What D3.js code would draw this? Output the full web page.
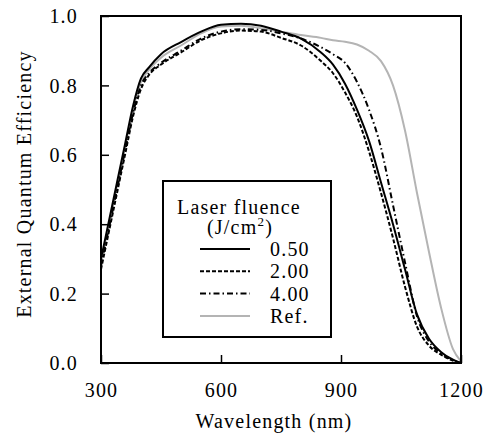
<!DOCTYPE html>
<html>
<head>
<meta charset="utf-8">
<script src="https://d3js.org/d3.v7.min.js"></script>
<style>
  body { margin: 0; background: #fff; }
  svg text { font-family: "Liberation Serif", "Tinos", "DejaVu Serif", serif; fill: #000; }
</style>
</head>
<body>
<script>
// wavelengths (nm) shared by all curves
var wavelength = [300, 320, 340, 360, 380, 400, 420, 450, 500, 550, 600, 650, 700, 750, 800,
                  850, 880, 910, 940, 970, 1000, 1030, 1060, 1090, 1120, 1150, 1180, 1200];

// EQE for each laser fluence
var eqe050 = [0.30, 0.41, 0.52, 0.63, 0.74, 0.82, 0.852, 0.89, 0.925, 0.955, 0.975, 0.978, 0.972, 0.955, 0.935,
              0.895, 0.86, 0.805, 0.73, 0.64, 0.52, 0.40, 0.27, 0.14, 0.07, 0.032, 0.01, 0.0];
var eqe200 = [0.27, 0.38, 0.49, 0.60, 0.71, 0.79, 0.83, 0.86, 0.895, 0.93, 0.95, 0.958, 0.955, 0.937, 0.915,
              0.87, 0.835, 0.78, 0.71, 0.61, 0.49, 0.36, 0.22, 0.105, 0.05, 0.024, 0.007, 0.0];
var eqe400 = [0.28, 0.39, 0.50, 0.61, 0.72, 0.80, 0.835, 0.865, 0.90, 0.935, 0.955, 0.962, 0.96, 0.95, 0.935,
              0.91, 0.89, 0.865, 0.81, 0.73, 0.62, 0.455, 0.29, 0.135, 0.062, 0.028, 0.008, 0.0];
var eqeRef = [0.29, 0.40, 0.51, 0.62, 0.73, 0.81, 0.845, 0.88, 0.915, 0.95, 0.97, 0.972, 0.965, 0.955, 0.945,
              0.937, 0.93, 0.926, 0.918, 0.90, 0.87, 0.80, 0.67, 0.49, 0.32, 0.16, 0.04, 0.005];

var legendLabels = ["0.50", "2.00", "4.00", "Ref."];
var xTicks = [300, 600, 900, 1200];
var yTicks = [0, 0.2, 0.4, 0.6, 0.8, 1.0];

var width = 487, height = 434;
var margin = {top: 16, right: 26, bottom: 71, left: 101};
var w = width - margin.left - margin.right;
var h = height - margin.top - margin.bottom;
var serif = "'Liberation Serif', 'Tinos', 'DejaVu Serif', serif";

var series = [
  {name: legendLabels[0], values: eqe050, color: "#000", dash: null, sw: 2},
  {name: legendLabels[1], values: eqe200, color: "#000", dash: "4,2", sw: 2},
  {name: legendLabels[2], values: eqe400, color: "#000", dash: "6,3,1.5,3", sw: 2},
  {name: legendLabels[3], values: eqeRef, color: "#b4b4b4", dash: null, sw: 2}
];

var svg = d3.select("body").append("svg")
    .attr("width", width)
    .attr("height", height)
    .attr("font-family", serif);

var g = svg.append("g")
    .attr("transform", "translate(" + margin.left + "," + margin.top + ")");

var x = d3.scaleLinear().domain([300, 1200]).range([0, w]);
var y = d3.scaleLinear().domain([0, 1]).range([h, 0]);

// axes, ticks pointing inward
var xAxis = g.append("g")
    .attr("transform", "translate(0," + h + ")")
    .call(d3.axisBottom(x).tickValues(xTicks).tickSize(-8).tickPadding(20).tickFormat(d3.format("d")));
var yAxis = g.append("g")
    .call(d3.axisLeft(y).tickValues(yTicks).tickSize(-8).tickPadding(23).tickFormat(d3.format(".1f")));

[xAxis, yAxis].forEach(function(a) {
  a.attr("font-family", serif).attr("font-size", 20);
  a.select(".domain").remove();
  a.selectAll(".tick line").attr("stroke", "#000").attr("stroke-width", 1.5);
  a.selectAll(".tick text").style("letter-spacing", "1.2px");
});
yAxis.selectAll(".tick text").attr("dy", "0.33em");

g.append("clipPath").attr("id", "clip")
  .append("rect").attr("width", w).attr("height", h);

var line = d3.line()
    .x(function(d, i) { return x(wavelength[i]); })
    .y(function(d) { return y(d); })
    .curve(d3.curveMonotoneX);

// draw ref first so black curves sit on top
g.append("g").attr("clip-path", "url(#clip)")
  .selectAll("path")
  .data(series.slice().reverse())
  .enter()
  .append("path")
  .attr("d", function(d) { return line(d.values); })
  .attr("fill", "none")
  .attr("stroke", function(d) { return d.color; })
  .attr("stroke-width", function(d) { return d.sw; })
  .attr("stroke-dasharray", function(d) { return d.dash; });

// plot frame
g.append("rect")
  .attr("width", w).attr("height", h)
  .attr("fill", "none").attr("stroke", "#000").attr("stroke-width", 2);

// axis titles
svg.append("text")
  .attr("x", 274).attr("y", 428)
  .attr("text-anchor", "middle")
  .style("font-size", "20px").style("letter-spacing", "1.2px")
  .text("Wavelength (nm)");

svg.append("text")
  .attr("transform", "translate(31,184) rotate(-90)")
  .attr("text-anchor", "middle")
  .style("font-size", "20px").style("letter-spacing", "1.2px")
  .text("External Quantum Efficiency");

// legend
var leg = svg.append("g");
leg.append("rect")
  .attr("x", 163).attr("y", 181).attr("width", 168).attr("height", 156)
  .attr("fill", "#fff").attr("stroke", "#000").attr("stroke-width", 2);

leg.append("text")
  .attr("x", 239).attr("y", 214)
  .attr("text-anchor", "middle")
  .style("font-size", "20px").style("letter-spacing", "1.2px")
  .text("Laser fluence");

var unit = leg.append("text")
  .attr("x", 240).attr("y", 234)
  .attr("text-anchor", "middle")
  .style("font-size", "20px").style("letter-spacing", "1.2px");
unit.append("tspan").text("(J/cm");
unit.append("tspan").attr("dy", -8).style("font-size", "13px").text("2");
unit.append("tspan").attr("dy", 8).text(")");

var rows = leg.selectAll("g.row")
  .data(series)
  .enter()
  .append("g")
  .attr("class", "row")
  .attr("transform", function(d, i) { return "translate(0," + (249 + i * 22.3) + ")"; });

rows.append("line")
  .attr("x1", 200).attr("x2", 250)
  .attr("stroke", function(d) { return d.color; })
  .attr("stroke-width", function(d) { return d.sw; })
  .attr("stroke-dasharray", function(d) { return d.dash; });

rows.append("text")
  .attr("x", 270).attr("y", 7)
  .style("font-size", "20px").style("letter-spacing", "1.2px")
  .text(function(d) { return d.name; });
</script>
</body>
</html>
